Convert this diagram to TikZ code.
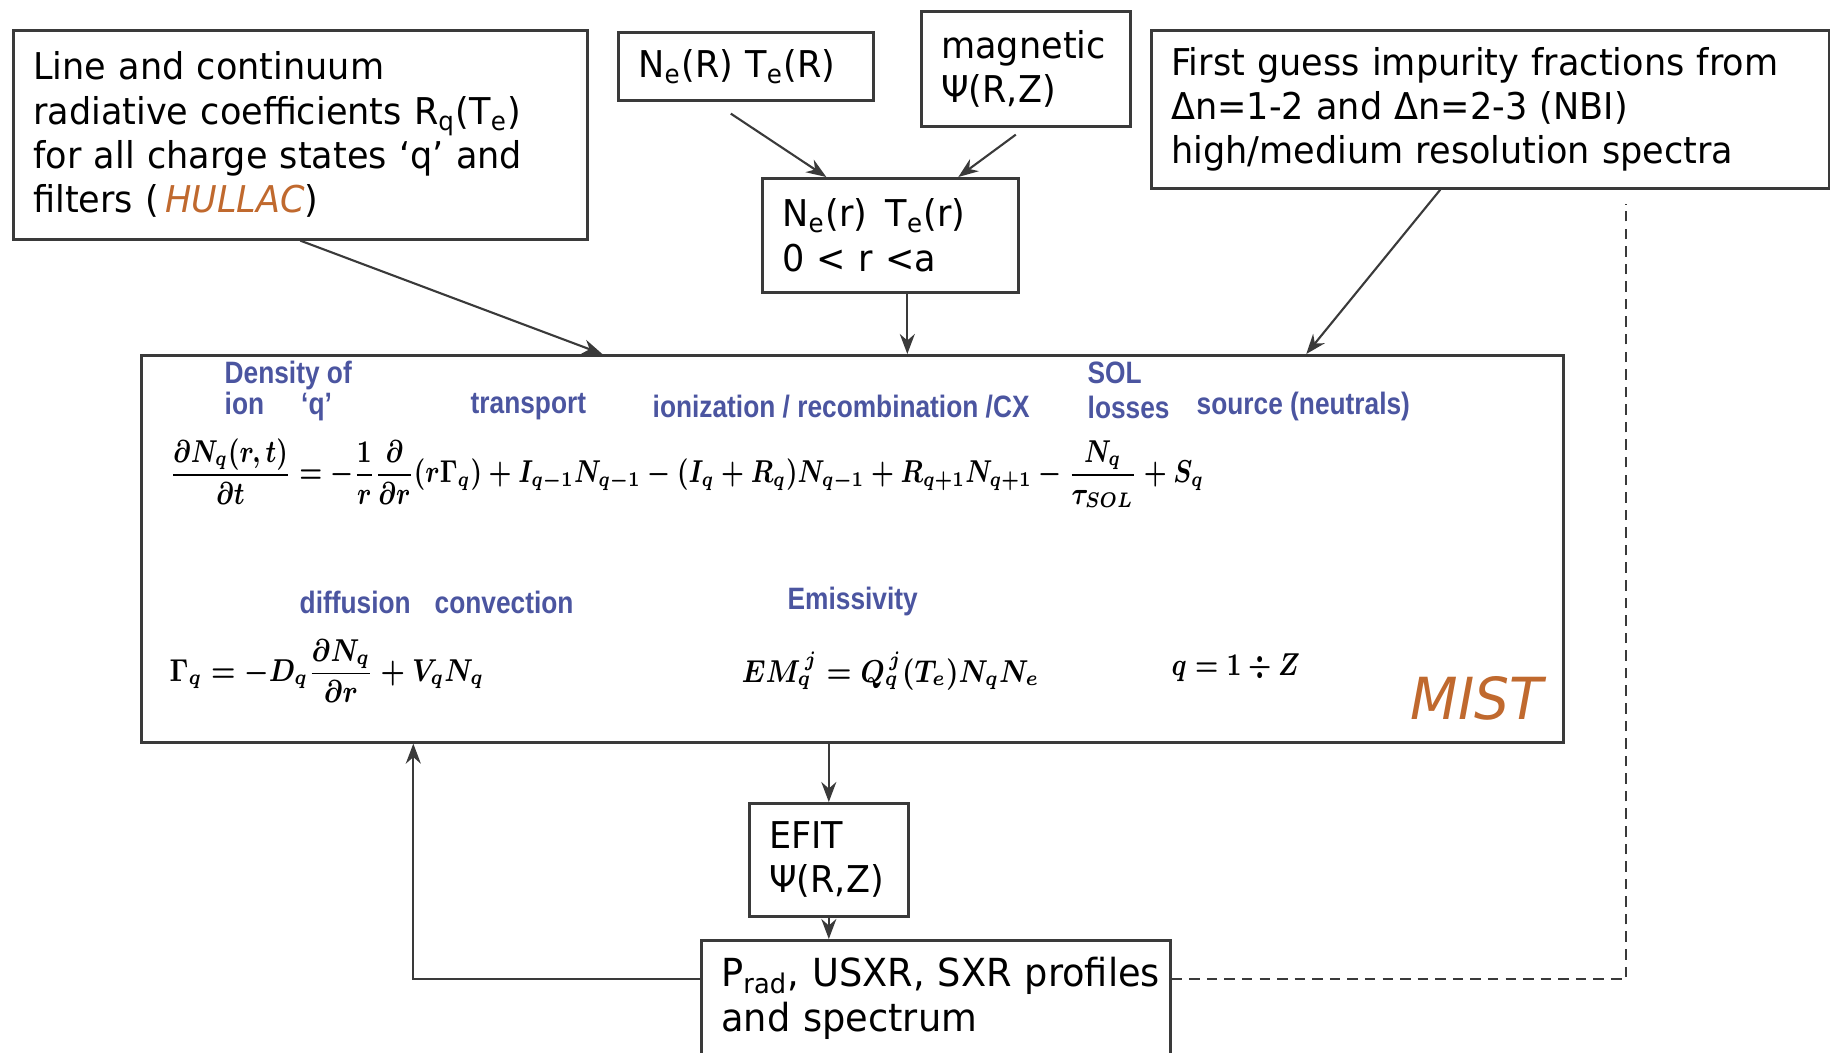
\documentclass[tikz,border=0pt]{standalone}
\usepackage{fontspec}
\setmainfont{DejaVu Sans}[FakeStretch=0.95]
\newfontfamily\tagfont{Liberation Sans}[FakeStretch=0.85]
\usetikzlibrary{positioning,arrows.meta}
\definecolor{boxline}{HTML}{3A3A3A}
\definecolor{tagblue}{HTML}{4B55A0}
\definecolor{codeorange}{HTML}{C0692E}
\newcommand{\eqsq}[2][0.8]{\scalebox{#1}[1]{\boldmath#2}}

\begin{document}
\begin{tikzpicture}[x=0.1mm, y=-0.1mm,
  font=\fontsize{10.5}{12.6}\selectfont,
  blk/.style={draw=boxline, line width=0.75pt, align=left, inner xsep=2mm,
              inner ysep=1mm, anchor=north west},
  tag/.style={font=\tagfont\bfseries\fontsize{8.8}{10}\selectfont, text=tagblue,
              anchor=west, inner sep=0pt},
  eqn/.style={font=\fontsize{9.2}{11}\selectfont, anchor=west, inner sep=0pt},
  arr/.style={-{Stealth[length=2mm, width=1.5mm]}, line width=0.6pt, boxline},
  dashln/.style={densely dashed, line width=0.6pt, boxline}
]
\useasboundingbox (0,0) rectangle (1830,1053);
% ================= input boxes along the top =================
\node[blk, text width=53.4mm, minimum height=20.9mm] (coef) at (12,29)
  {Line and continuum\\
   radiative coefficients R\textsubscript{q}(T\textsubscript{e})\\
   for all charge states ‘q’ and\\
   filters (\,\textcolor{codeorange}{\itshape HULLAC})};
\node[blk, text width=21.5mm, minimum height=6.8mm] (neR) at (617,31)
  {N\textsubscript{e}(R) T\textsubscript{e}(R)};
\node[blk, text width=16.9mm, minimum height=11.5mm] (mag) at (920,10)
  {magnetic\\Ψ(R,Z)};
\node[blk, text width=63.8mm, minimum height=15.8mm] (guess) at (1150,29)
  {First guess impurity fractions from\\
   Δn=1-2 and Δn=2-3 (NBI)\\
   high/medium resolution spectra};
\node[blk, text width=21.6mm, minimum height=11.4mm] (ner) at (761,177)
  {N\textsubscript{e}(r)\enspace T\textsubscript{e}(r)\\0 < r <a};
% ================= MIST code box =================
\node[blk, minimum width=142.2mm, minimum height=38.7mm, inner sep=0pt] (mist) at (140,354) {};
\node[tag] (tdens) at (224,376) {Density of};
\node[tag] (tion)  at (224,407) {ion\hspace{1.2em}‘q’};
\node[tag] (ttrn)  at (470,407) {transport};
\node[tag] (tioni) at (652,407) {ionization / recombination /CX};
\node[tag] (tsol)  at (1087,373) {SOL};
\node[tag] (tloss) at (1087,407) {losses};
\node[tag] (tsrc)  at (1196,407) {source (neutrals)};
\node[eqn] (eqbal) at (169,473)
  {\eqsq[0.79]{$\displaystyle \frac{\partial N_q(r,t)}{\partial t} = -\frac{1}{r}\frac{\partial}{\partial r}(r\Gamma_q)
   + I_{q-1}N_{q-1} - (I_q + R_q)N_{q-1} + R_{q+1}N_{q+1} - \frac{N_q}{\tau_{SOL}} + S_q$}};
\node[tag] (tdiff) at (299,602) {diffusion};
\node[tag] (tconv) at (434,602) {convection};
\node[tag] (temis) at (787,602) {Emissivity};
\node[eqn] (eqflux) at (169,671)
  {\eqsq[0.84]{$\displaystyle \Gamma_q = -D_q\frac{\partial N_q}{\partial r} + V_q N_q$}};
\node[eqn] (eqem) at (741,671) {\eqsq[0.86]{$EM_q^{\,j} = Q_q^{\,j}(T_e)N_qN_e$}};
\node[eqn] (eqq) at (1171,668) {\eqsq{$q = 1 \div Z$}};
\node[font=\fontsize{16.5}{18}\selectfont\itshape, text=codeorange, anchor=west,
      inner sep=0pt] (mistlbl) at (1410,698) {MIST};
% ================= outputs below =================
\node[blk, text width=11.9mm, minimum height=11.3mm] (efit) at (748,802)
  {EFIT\\Ψ(R,Z)};
\node[blk, text width=42.9mm, minimum height=11.6mm, font=\fontsize{11}{13}\selectfont] (prad) at (700,939)
  {\mbox{P\textsubscript{rad}, USXR, SXR profiles}\\and spectrum};
% ----- inputs -> MIST -----
\draw[arr] (coef.south) -- ([xshift=-25mm]mist.north);
\draw[arr] ([xshift=-1.5mm,yshift=-1.2mm]neR.south) -- ([xshift=-6.4mm]ner.north);
\draw[arr] ([xshift=-1mm,yshift=-0.7mm]mag.south) -- ([xshift=6.8mm]ner.north);
\draw[arr] ([xshift=1.7mm]ner.south) -- ([xshift=1.7mm]ner.south |- mist.north);
\draw[arr] ([xshift=-5mm]guess.south) -- ([xshift=45.4mm]mist.north);
% ----- MIST -> EFIT -> profiles -----
\foreach \a/\b in {mist/efit, efit/prad}{\draw[arr] (\a.south -| efit.north) -- (\b.north -| efit.north);}
% ----- feedback loop and dashed comparison -----
\draw[arr] ([yshift=1.9mm]prad.west) -| ([xshift=-43.9mm]mist.south);
\draw[dashln] ([yshift=1.9mm]prad.east) -| ([xshift=13.6mm,yshift=-1.4mm]guess.south);
\end{tikzpicture}
\end{document}
